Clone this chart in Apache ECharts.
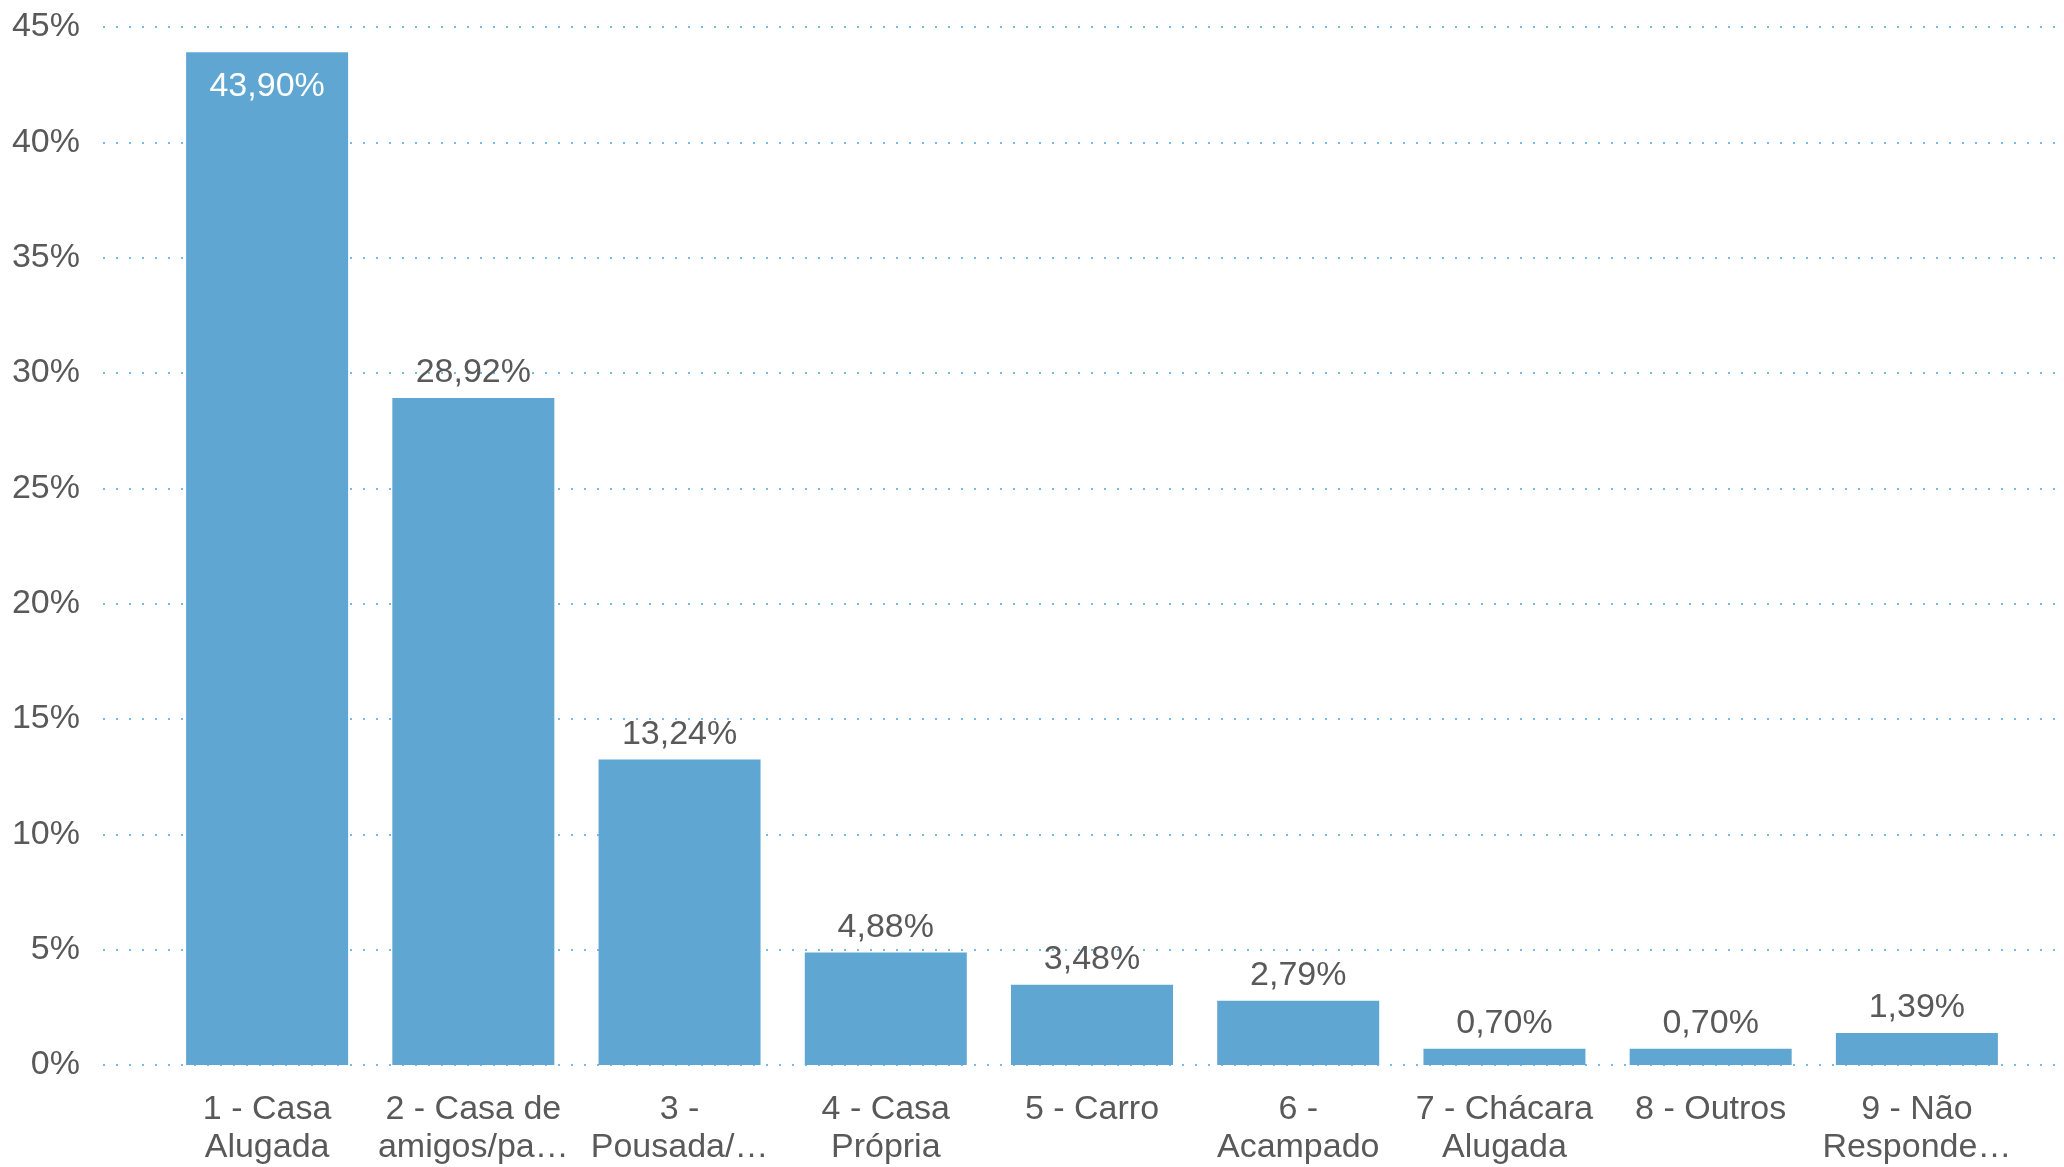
<!DOCTYPE html>
<html>
<head>
<meta charset="utf-8">
<script src="https://cdn.jsdelivr.net/npm/echarts@6/dist/echarts.min.js"></script>
<style>
  html, body { margin: 0; padding: 0; background: #fff; }
  #chart { width: 2064px; height: 1167px; }
</style>
</head>
<body>
<div id="chart"></div>
<script>
"use strict";
// categorias (rótulos do eixo x como aparecem no gráfico)
var categorias = [
    '1 - Casa\nAlugada',
    '2 - Casa de\namigos/pa…',
    '3 -\nPousada/…',
    '4 - Casa\nPrópria',
    '5 - Carro',
    '6 -\nAcampado',
    '7 - Chácara\nAlugada',
    '8 - Outros',
    '9 - Não\nResponde…'
];
// percentuais
var percentuais = [43.90, 28.92, 13.24, 4.88, 3.48, 2.79, 0.70, 0.70, 1.39];
// eixo y
var yMin = 0, yMax = 45, yPasso = 5;

var corTexto = '#595959';
var corBarra = '#5fa7d2';
var fonte = '"Liberation Sans", Arial, sans-serif';

function fmt(v) {
    return v.toFixed(2).replace('.', ',') + '%';
}

var myChart = echarts.init(document.getElementById('chart'));

var dados = percentuais.map(function (v, i) {
    var item = { value: v };
    if (i === 0) {
        // primeira barra: rótulo branco dentro da barra
        item.label = { position: 'insideTop', distance: 17, color: '#ffffff' };
    }
    return item;
});

var option = {
    backgroundColor: '#ffffff',
    animation: false,
    textStyle: { fontFamily: fonte },
    grid: [
        // grade larga só para as linhas pontilhadas e rótulos do eixo y
        { left: 103, right: 4, top: 27, bottom: 102 },
        // grade das barras
        { left: 164, right: 44, top: 27, bottom: 102 }
    ],
    xAxis: [
        { gridIndex: 0, type: 'category', data: [], show: false },
        {
            gridIndex: 1,
            type: 'category',
            data: categorias,
            axisLine: { show: false },
            axisTick: { show: false },
            axisLabel: {
                interval: 0,
                margin: 26,
                color: corTexto,
                fontSize: 34,
                lineHeight: 38,
                fontFamily: fonte
            }
        }
    ],
    yAxis: [
        {
            gridIndex: 0,
            type: 'value',
            min: yMin,
            max: yMax,
            interval: yPasso,
            axisLine: { show: false },
            axisTick: { show: false },
            axisLabel: {
                formatter: '{value}%',
                margin: 23,
                color: corTexto,
                fontSize: 34,
                fontFamily: fonte
            },
            splitLine: {
                show: true,
                lineStyle: { color: '#74bbe9', width: 2, type: [2, 11] }
            }
        },
        {
            gridIndex: 1,
            type: 'value',
            min: yMin,
            max: yMax,
            interval: yPasso,
            show: false,
            splitLine: { show: false }
        }
    ],
    series: [{
        name: 'Percentual',
        type: 'bar',
        xAxisIndex: 1,
        yAxisIndex: 1,
        barWidth: 162,
        itemStyle: { color: corBarra },
        label: {
            show: true,
            position: 'top',
            distance: 8,
            color: corTexto,
            fontSize: 34,
            fontFamily: fonte,
            formatter: function (p) { return fmt(p.value); }
        },
        data: dados
    }]
};

myChart.setOption(option);
</script>
</body>
</html>
